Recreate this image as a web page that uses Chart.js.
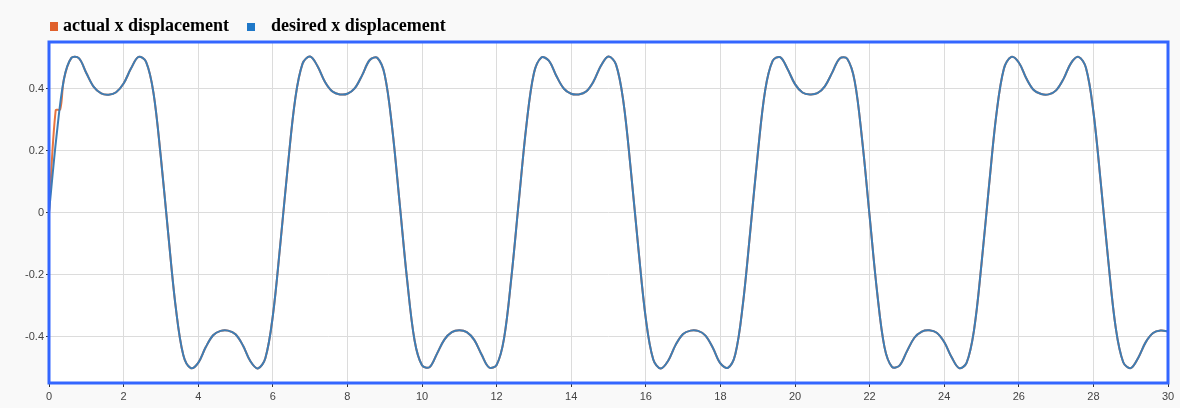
<!DOCTYPE html>
<html>
<head>
<meta charset="utf-8">
<title>x displacement</title>
<script src="https://cdn.jsdelivr.net/npm/chart.js@4/dist/chart.umd.min.js"></script>
<style>
  html, body { margin: 0; padding: 0; background: #f9f9f9; }
  #wrap { position: relative; width: 1180px; height: 408px; }
</style>
</head>
<body>
<div id="wrap"><canvas id="scope"></canvas></div>
<script>
'use strict';

// #pragma Data

// sample times (s)
let times = [
  0, 0.2, 0.4, 0.6, 0.8, 1, 1.2, 1.4, 1.6, 1.8, 2, 2.2, 2.4, 2.6, 2.8, 3, 3.2, 3.4, 3.6, 3.8,
  4, 4.2, 4.4, 4.6, 4.8, 5, 5.2, 5.4, 5.6, 5.8, 6, 6.2, 6.4, 6.6, 6.8, 7, 7.2, 7.4, 7.6, 7.8,
  8, 8.2, 8.4, 8.6, 8.8, 9, 9.2, 9.4, 9.6, 9.8, 10, 10.2, 10.4, 10.6, 10.8, 11, 11.2, 11.4, 11.6, 11.8,
  12, 12.2, 12.4, 12.6, 12.8, 13, 13.2, 13.4, 13.6, 13.8, 14, 14.2, 14.4, 14.6, 14.8, 15, 15.2, 15.4, 15.6, 15.8,
  16, 16.2, 16.4, 16.6, 16.8, 17, 17.2, 17.4, 17.6, 17.8, 18, 18.2, 18.4, 18.6, 18.8, 19, 19.2, 19.4, 19.6, 19.8,
  20, 20.2, 20.4, 20.6, 20.8, 21, 21.2, 21.4, 21.6, 21.8, 22, 22.2, 22.4, 22.6, 22.8, 23, 23.2, 23.4, 23.6, 23.8,
  24, 24.2, 24.4, 24.6, 24.8, 25, 25.2, 25.4, 25.6, 25.8, 26, 26.2, 26.4, 26.6, 26.8, 27, 27.2, 27.4, 27.6, 27.8,
  28, 28.2, 28.4, 28.6, 28.8, 29, 29.2, 29.4, 29.6, 29.8, 30
];

// desired x displacement
let desired = [
  0, 0.245, 0.430, 0.499, 0.498, 0.450, 0.405, 0.384, 0.380, 0.388, 0.416, 0.465, 0.502, 0.487, 0.387, 0.176, -0.073, -0.308, -0.460, -0.502,
  -0.485, -0.435, -0.396, -0.382, -0.381, -0.393, -0.429, -0.480, -0.503, -0.470, -0.334, -0.104, 0.146, 0.365, 0.481, 0.503, 0.472, 0.421, 0.390, 0.381,
  0.383, 0.401, 0.444, 0.492, 0.499, 0.444, 0.273, 0.031, -0.216, -0.412, -0.493, -0.499, -0.456, -0.410, -0.386, -0.380, -0.386, -0.411, -0.459, -0.500,
  -0.492, -0.406, -0.205, 0.042, 0.282, 0.449, 0.500, 0.490, 0.441, 0.400, 0.383, 0.381, 0.390, 0.423, 0.474, 0.503, 0.478, 0.357, 0.135, -0.115,
  -0.342, -0.474, -0.503, -0.478, -0.427, -0.392, -0.381, -0.382, -0.397, -0.437, -0.487, -0.501, -0.457, -0.299, -0.062, 0.187, 0.394, 0.489, 0.501, 0.463,
  0.414, 0.387, 0.381, 0.385, 0.407, 0.452, 0.497, 0.496, 0.424, 0.234, -0.011, -0.255, -0.435, -0.498, -0.494, -0.448, -0.404, -0.384, -0.380, -0.388,
  -0.418, -0.467, -0.502, -0.485, -0.379, -0.166, 0.084, 0.317, 0.464, 0.502, 0.484, 0.433, 0.395, 0.382, 0.381, 0.394, 0.431, 0.482, 0.502, 0.467,
  0.325, 0.093, -0.157, -0.373, -0.483, -0.502, -0.469, -0.419, -0.389, -0.381, -0.383
];

// actual x displacement: start-up transient, after that it sits on the desired trace
let actualStartTimes = [0, 0.18, 0.3];
let actualStartValues = [0, 0.33, 0.332];

let xTicks = [0, 2, 4, 6, 8, 10, 12, 14, 16, 18, 20, 22, 24, 26, 28, 30];
let yTicks = [-0.4, -0.2, 0, 0.2, 0.4];

let seriesNames = ['actual x displacement', 'desired x displacement'];

// #pragma Helpers

function toPoints(xs, ys) {
  let pts = [];
  for (let i = 0; i < xs.length; i++) {
    pts.push({ x: xs[i], y: ys[i] });
  }
  return pts;
}

let desiredPoints = toPoints(times, desired);
let actualPoints = toPoints(actualStartTimes, actualStartValues);
for (let i = 0; i < times.length; i++) {
  if (times[i] >= 0.4) {
    actualPoints.push({ x: times[i], y: desired[i] });
  }
}

// background, white plot area, blue frame and the legend
let scopeFrame = {
  id: 'scopeFrame',
  beforeDraw(chart) {
    let ctx = chart.ctx;
    let a = chart.chartArea;
    ctx.save();
    ctx.fillStyle = '#f9f9f9';
    ctx.fillRect(0, 0, chart.width, chart.height);
    ctx.fillStyle = '#ffffff';
    ctx.fillRect(a.left, a.top, a.right - a.left, a.bottom - a.top);
    ctx.restore();
  },
  afterDraw(chart) {
    let ctx = chart.ctx;
    let a = chart.chartArea;
    ctx.save();
    ctx.strokeStyle = '#3366ff';
    ctx.lineWidth = 3;
    ctx.strokeRect(a.left, a.top, a.right - a.left, a.bottom - a.top);

    // legend
    ctx.font = 'bold 18px "Liberation Serif", "Times New Roman", serif';
    ctx.textBaseline = 'alphabetic';
    ctx.fillStyle = '#e0602c';
    ctx.fillRect(50, 22, 8, 9);
    ctx.fillStyle = '#000000';
    ctx.fillText(seriesNames[0], 63, 31);
    ctx.fillStyle = '#1f78c8';
    ctx.fillRect(247, 23, 8, 8);
    ctx.fillStyle = '#000000';
    ctx.fillText(seriesNames[1], 271, 31);
    ctx.restore();
  }
};

// #pragma Chart

let chartContext = document.getElementById('scope').getContext('2d');

let chartConfig = {
  type: 'line',
  data: {
    datasets: [{
      label: seriesNames[1],
      data: desiredPoints,
      borderColor: '#3d7db5',
      borderWidth: 2,
      pointRadius: 0,
      tension: 0.35,
      fill: false,
    }, {
      label: seriesNames[0],
      data: actualPoints,
      borderColor: '#e8743e',
      borderWidth: 2,
      pointRadius: 0,
      tension: 0.35,
      fill: false,
    }],
  },
  options: {
    responsive: true,
    maintainAspectRatio: false,
    animation: false,
    layout: { padding: { top: 42, right: 12, left: 0, bottom: 0 } },
    plugins: {
      legend: { display: false },
      tooltip: { enabled: false },
    },
    scales: {
      x: {
        type: 'linear',
        min: 0,
        max: 30,
        afterBuildTicks: (scale) => { scale.ticks = xTicks.map(v => ({ value: v })); },
        afterFit: (scale) => { scale.height = 25; },
        border: { display: false },
        grid: { color: '#dcdcdc', lineWidth: 1, tickLength: 4, tickColor: '#333333' },
        ticks: {
          color: '#444444',
          padding: 3,
          maxRotation: 0,
          font: { family: '"Liberation Sans", Arial, sans-serif', size: 11 },
        },
      },
      y: {
        type: 'linear',
        min: -0.55,
        max: 0.55,
        afterBuildTicks: (scale) => { scale.ticks = yTicks.map(v => ({ value: v })); },
        afterFit: (scale) => { scale.width = 49; },
        border: { display: false },
        grid: { color: '#dcdcdc', lineWidth: 1, tickLength: 3, tickColor: '#333333' },
        ticks: {
          color: '#444444',
          padding: 2,
          font: { family: '"Liberation Sans", Arial, sans-serif', size: 11 },
          callback: (v) => String(Math.round(v * 10) / 10),
        },
      },
    },
  },
  plugins: [scopeFrame],
};

let scopeChart = new Chart(chartContext, chartConfig);
</script>
</body>
</html>
